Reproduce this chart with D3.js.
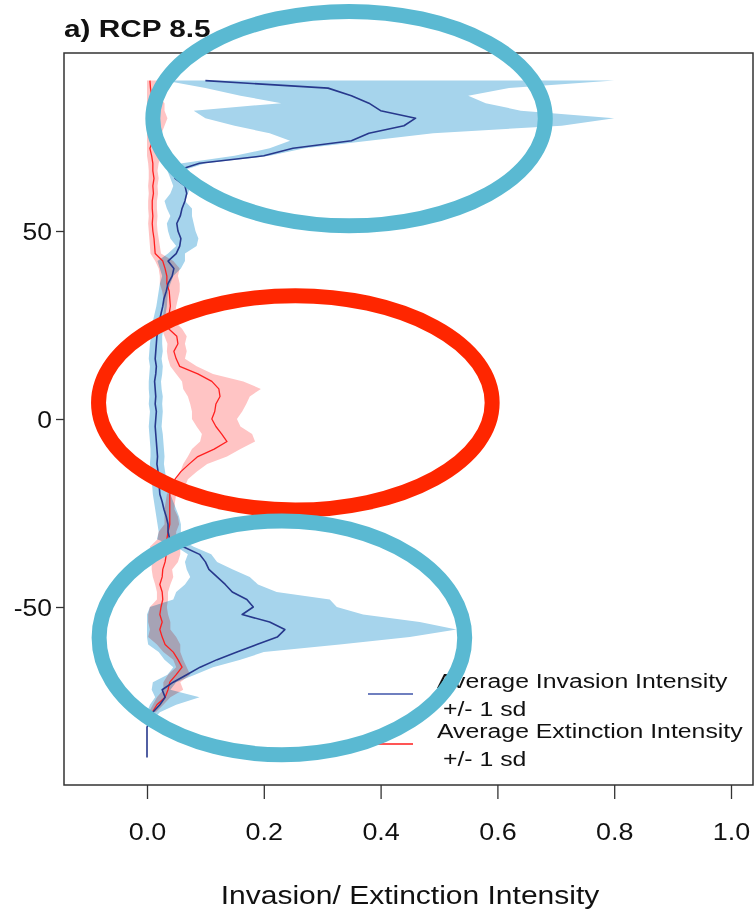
<!DOCTYPE html>
<html>
<head>
<meta charset="utf-8">
<script src="https://cdn.jsdelivr.net/npm/d3@7"></script>
<style>
  body { margin: 0; background: #fff; }
  svg { display: block; font-family: "Liberation Sans", Arial, sans-serif; }
</style>
</head>
<body>
<svg id="chart"></svg>
<script>
// latitude bins, north to south (every 2 degrees)
var lats = d3.range(90, -91, -2);

// invasion intensity: mean and +/- 1 sd band edges
var invMean = [0.10,0.31,0.35,0.38,0.40,0.46,0.44,0.38,0.35,0.25,0.20,0.09,0.05,0.048,0.065,0.068,0.065,0.060,0.057,0.051,
  0.053,0.058,0.056,0.050,0.036,0.046,0.043,0.036,0.033,0.029,0.027,0.024,0.021,0.019,0.017,0.016,0.015,0.014,0.016,0.015,
  0.013,0.014,0.015,0.014,0.016,0.015,0.014,0.015,0.016,0.017,0.018,0.017,0.019,0.020,0.021,0.022,0.026,0.029,0.033,0.036,
  0.036,0.039,0.062,0.090,0.100,0.106,0.120,0.134,0.146,0.171,0.182,0.163,0.210,0.236,0.223,0.188,0.154,0.120,0.091,0.068,
  0.045,0.026,0.031,0.022,0.010,0.005,0,0,0,0,0];
var invLo = [0.03,0.10,0.16,0.23,0.08,0.10,0.15,0.21,0.245,0.21,0.15,0.06,0.035,0.040,0.045,0.040,0.030,0.034,0.040,0.034,
  0.036,0.040,0.050,0.036,0.018,0.022,0.026,0.022,0.020,0.018,0.016,0.013,0.010,0.008,0.007,0.005,0.004,0.003,0.005,0.004,
  0.003,0.003,0.004,0.003,0.005,0.004,0.003,0.004,0.005,0.006,0.006,0.005,0.007,0.008,0.009,0.010,0.012,0.014,0.016,0.018,
  0.020,0.017,0.050,0.070,0.065,0.068,0.074,0.065,0.050,0.045,0.005,0,0,0,0,0.002,0.020,0.030,0.045,0.035,
  0.010,0.008,0.014,0.005,0,0,0,0,0,0,0];
var invHi = [0.80,0.62,0.55,0.58,0.64,0.80,0.71,0.49,0.38,0.27,0.21,0.10,0.06,0.055,0.075,0.070,0.065,0.077,0.077,0.080,
  0.083,0.088,0.085,0.065,0.065,0.058,0.045,0.040,0.036,0.035,0.034,0.032,0.030,0.028,0.026,0.026,0.027,0.025,0.027,0.026,
  0.024,0.025,0.027,0.026,0.027,0.026,0.025,0.027,0.028,0.029,0.030,0.029,0.031,0.033,0.035,0.040,0.045,0.050,0.055,0.058,
  0.058,0.057,0.080,0.110,0.120,0.147,0.176,0.190,0.222,0.313,0.325,0.370,0.467,0.530,0.450,0.330,0.200,0.160,0.113,0.082,
  0.050,0.040,0.090,0.050,0.022,0.010,0,0,0,0,0];

// extinction intensity: mean and +/- 1 sd band edges (no values south of -78)
var extMean = [0.005,0.006,0.008,0.008,0.007,0.006,0.006,0.008,0.010,0.005,0.008,0.010,0.010,0.012,0.010,0.011,0.009,0.009,0.010,0.009,
  0.010,0.012,0.013,0.014,0.027,0.031,0.034,0.034,0.038,0.039,0.040,0.038,0.036,0.037,0.051,0.053,0.046,0.050,0.056,0.087,
  0.111,0.123,0.125,0.118,0.116,0.111,0.118,0.128,0.137,0.115,0.087,0.072,0.058,0.048,0.043,0.039,0.039,0.039,0.039,0.039,
  0.036,0.034,0.034,0.033,0.031,0.027,0.026,0.022,0.026,0.027,0.024,0.022,0.026,0.022,0.026,0.031,0.045,0.053,0.060,0.050,
  0.039,0.036,0.031,0.017,0.009,null,null,null,null,null,null];
var extLo = [0,0,0,0,0,0,0,0,0,0,0,0.002,0.003,0.003,0.002,0.003,0.002,0.002,0.003,0.002,
  0.003,0.004,0.005,0.006,0.014,0.020,0.022,0.022,0.026,0.028,0.030,0.028,0.027,0.025,0.030,0.035,0.034,0.036,0.040,0.050,
  0.060,0.062,0.070,0.074,0.077,0.077,0.085,0.094,0.091,0.077,0.070,0.062,0.057,0.050,0.045,0.034,0.032,0.030,0.030,0.030,
  0.020,0.018,0.005,0.005,0.008,0.008,0.010,0.014,0.017,0.017,0.005,0.002,0.002,0.005,0.002,0.017,0.028,0.045,0.050,0.036,
  0.028,0.028,0.017,0.010,0.003,null,null,null,null,null,null];
var extHi = [0.020,0.015,0.020,0.030,0.030,0.035,0.030,0.025,0.020,0.020,0.025,0.020,0.018,0.020,0.018,0.019,0.017,0.017,0.018,0.017,
  0.018,0.020,0.022,0.024,0.045,0.056,0.053,0.056,0.056,0.053,0.050,0.048,0.047,0.060,0.068,0.065,0.068,0.065,0.085,0.113,
  0.165,0.195,0.176,0.170,0.163,0.154,0.160,0.180,0.185,0.160,0.137,0.103,0.085,0.070,0.065,0.050,0.048,0.047,0.053,0.055,
  0.050,0.050,0.057,0.057,0.053,0.043,0.045,0.040,0.036,0.036,0.034,0.036,0.040,0.040,0.050,0.057,0.057,0.062,0.068,0.074,
  0.057,0.062,0.040,0.028,0.015,null,null,null,null,null,null];

var xTicks = [0, 0.2, 0.4, 0.6, 0.8, 1.0];
var yTicks = [50, 0, -50];
var legendLabels = ["Average Invasion Intensity", "Average Extinction Intensity"];
var legendSub = "+/- 1 sd";
var titleText = "a) RCP 8.5";
var xTitle = "Invasion/ Extinction Intensity";

// highlight rings, in data units (intensity, latitude)
var ringX = [0.346, 0.254, 0.231];
var ringY = [79.9, 4.3, -58.2];
var ringRx = [0.336, 0.337, 0.313];
var ringRy = [28.5, 28.5, 31.1];
var ringColors = ["#5ab9d2", "#ff2600", "#5ab9d2"];

var W = 756, H = 913;
var box = { left: 64, right: 753, top: 53, bottom: 785 };

var svg = d3.select("#chart").attr("width", W).attr("height", H);

var x = d3.scaleLinear().domain([0, 1]).range([147, 731]);
var y = d3.scaleLinear().domain([0, 50]).range([419, 231]);

function widen(sel, k) {
    sel.each(function() {
        var w = this.getComputedTextLength();
        d3.select(this).attr("textLength", w * k).attr("lengthAdjust", "spacingAndGlyphs");
    });
}

var inv = lats.map(function(l, i) { return { lat: l, m: invMean[i], lo: invLo[i], hi: invHi[i] }; });
var ext = lats.map(function(l, i) { return { lat: l, m: extMean[i], lo: extLo[i], hi: extHi[i] }; });

var band = d3.area()
    .defined(function(d) { return d.lo != null; })
    .y(function(d) { return y(d.lat); })
    .x0(function(d) { return x(d.lo); })
    .x1(function(d) { return x(d.hi); });

var line = d3.line()
    .defined(function(d) { return d.m != null; })
    .x(function(d) { return x(d.m); })
    .y(function(d) { return y(d.lat); });

var plot = svg.append("g");

plot.append("path").datum(inv)
    .attr("fill", "#a6d4ec")
    .attr("d", band);

plot.append("path").datum(ext)
    .attr("fill", "#ffc4c4")
    .style("mix-blend-mode", "multiply")
    .attr("d", band);

plot.append("path").datum(ext)
    .attr("fill", "none")
    .attr("stroke", "#ff1f1f")
    .attr("stroke-width", 1.3)
    .attr("stroke-linejoin", "round")
    .attr("d", line);

plot.append("path").datum(inv)
    .attr("fill", "none")
    .attr("stroke", "#27388c")
    .attr("stroke-width", 1.6)
    .attr("stroke-linejoin", "round")
    .attr("d", line);

// frame
svg.append("rect")
    .attr("x", box.left).attr("y", box.top)
    .attr("width", box.right - box.left).attr("height", box.bottom - box.top)
    .attr("fill", "none").attr("stroke", "#333").attr("stroke-width", 1.5);

// axes
var gx = svg.append("g")
    .attr("transform", "translate(0," + box.bottom + ")")
    .call(d3.axisBottom(x).tickValues(xTicks).tickFormat(d3.format(".1f")).tickSize(14));
gx.select(".domain").remove();
gx.selectAll("line").attr("stroke", "#333").attr("stroke-width", 1.3);
gx.selectAll("text")
    .attr("y", 55).attr("dy", 0)
    .attr("fill", "#111")
    .style("font-size", "23px");
widen(gx.selectAll("text"), 1.17);

var gy = svg.append("g")
    .attr("transform", "translate(" + box.left + ",0)")
    .call(d3.axisLeft(y).tickValues(yTicks).tickSize(8).tickFormat(function(d) { return String(d); }));
gy.select(".domain").remove();
gy.selectAll("line").attr("stroke", "#333").attr("stroke-width", 1.3);
gy.selectAll("text")
    .attr("x", -12).attr("dy", "0.36em")
    .attr("fill", "#111")
    .style("font-size", "23px");
widen(gy.selectAll("text"), 1.15);

// titles
var t = svg.append("text")
    .attr("x", 64).attr("y", 37)
    .attr("font-weight", "bold")
    .style("font-size", "24px")
    .attr("fill", "#111")
    .text(titleText);
widen(t, 1.24);

var xt = svg.append("text")
    .attr("x", 410).attr("y", 904)
    .attr("text-anchor", "middle")
    .style("font-size", "25px")
    .attr("fill", "#111")
    .text(xTitle);
widen(xt, 1.2);

// legend
var legColors = ["#6f7fbf", "#ff5555"];
var leg = svg.append("g");
legendLabels.forEach(function(lab, i) {
    var base = 688 + i * 50;
    leg.append("line")
        .attr("x1", 368).attr("x2", 413)
        .attr("y1", base + 6).attr("y2", base + 6)
        .attr("stroke", legColors[i]).attr("stroke-width", 2);
    var a = leg.append("text")
        .attr("x", 437).attr("y", base)
        .style("font-size", "20px").attr("fill", "#111")
        .text(lab);
    widen(a, 1.24);
    var b = leg.append("text")
        .attr("x", 443).attr("y", base + 28)
        .style("font-size", "20px").attr("fill", "#111")
        .text(legendSub);
    widen(b, 1.24);
});

// highlight rings on top
var rings = ringX.map(function(cx, i) {
    return { cx: cx, cy: ringY[i], rx: ringRx[i], ry: ringRy[i], c: ringColors[i] };
});
svg.append("g").selectAll("ellipse").data(rings).join("ellipse")
    .attr("cx", function(d) { return x(d.cx); })
    .attr("cy", function(d) { return y(d.cy); })
    .attr("rx", function(d) { return x(d.rx) - x(0); })
    .attr("ry", function(d) { return y(0) - y(d.ry); })
    .attr("fill", "none")
    .attr("stroke", function(d) { return d.c; })
    .attr("stroke-width", 15);
</script>
</body>
</html>
